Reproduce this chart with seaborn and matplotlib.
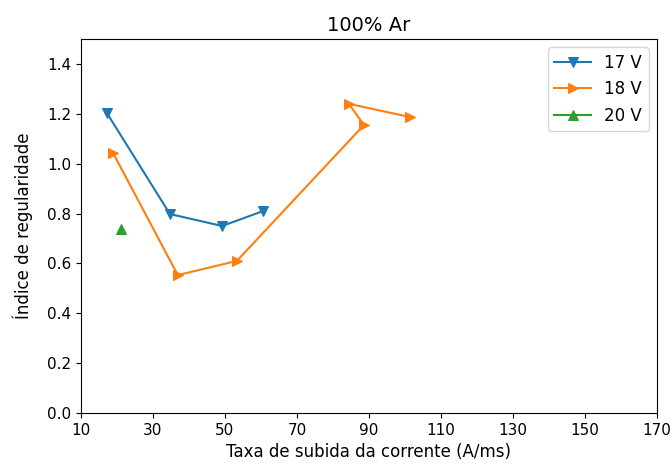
import matplotlib
matplotlib.use("Agg")
import matplotlib.pyplot as plt
import seaborn as sns
import pandas as pd

x17 = [17.2, 34.7, 49.2, 60.6]
y17 = [1.203, 0.798, 0.75, 0.81]
x18 = [18.9, 36.9, 53.3, 88.6, 84.4, 101.4]
y18 = [1.043, 0.553, 0.61, 1.155, 1.24, 1.187]
x20 = [21.1]
y20 = [0.738]
labels = ["17 V", "18 V", "20 V"]
markers = ["v", ">", "^"]
colors = ["#1f77b4", "#ff7f0e", "#2ca02c"]
xticks = [10, 30, 50, 70, 90, 110, 130, 150, 170]

fig = plt.figure(figsize=(6.72, 4.67), dpi=100)
ax = fig.add_axes([81/672, 1-413/467, (657-81)/672, (413-39)/467])
for xs, ys, lab, m, c in zip([x17, x18, x20], [y17, y18, y20], labels, markers, colors):
    df = pd.DataFrame({"x": xs, "y": ys})
    sns.lineplot(data=df, x="x", y="y", sort=False, marker=m, color=c, label=lab,
                 markersize=7, markeredgecolor=c, linewidth=1.5, ax=ax, estimator=None)
ax.set_xlim(10, 170)
ax.set_ylim(0, 1.5)
ax.set_xticks(xticks)
ax.set_yticks([0.0, 0.2, 0.4, 0.6, 0.8, 1.0, 1.2, 1.4])
ax.tick_params(labelsize=11)
ax.set_xlabel("Taxa de subida da corrente (A/ms)", fontsize=12)
ax.set_ylabel("Índice de regularidade", fontsize=12, labelpad=10)
ax.set_title("100% Ar", fontsize=14)
ax.legend(loc="upper right", fontsize=12, handlelength=2.2)
fig.savefig("out.png", dpi=100)
